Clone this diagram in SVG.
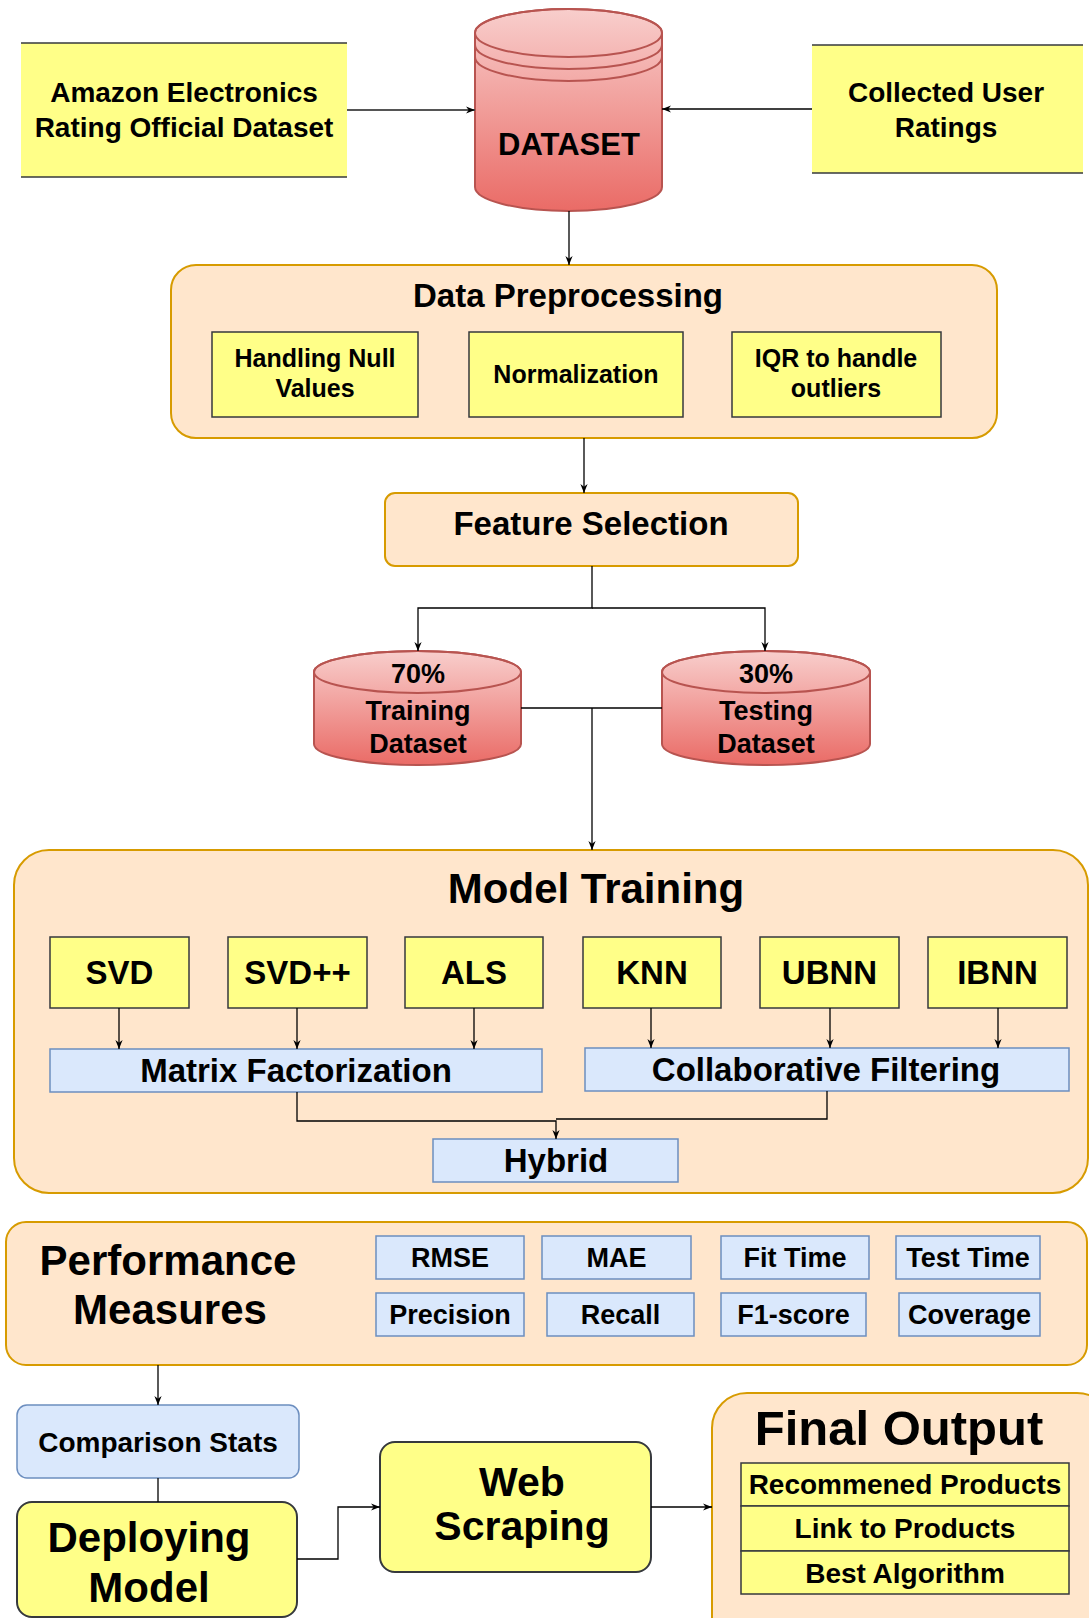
<svg xmlns="http://www.w3.org/2000/svg" width="1089" height="1618" viewBox="0 0 1089 1618">
<defs>
<linearGradient id="red" x1="0" y1="0" x2="0" y2="1">
<stop offset="0" stop-color="#f8cecc"/>
<stop offset="1" stop-color="#ea6b66"/>
</linearGradient>
<marker id="arr" viewBox="0 0 10 10" refX="10" refY="5" markerWidth="9" markerHeight="9" markerUnits="userSpaceOnUse" orient="auto">
<path d="M0,1 L10,5 L0,9 L3,5 Z" fill="#000"/>
</marker>
<style>
text{font-family:"Liberation Sans",Arial,sans-serif;font-weight:bold;fill:#000;text-anchor:middle}
.org{fill:#ffe6cc;stroke:#d79b00;stroke-width:2}
.yel{fill:#ffff88;stroke:#36393d;stroke-width:1.5}
.blu{fill:#dae8fc;stroke:#6c8ebf;stroke-width:1.5}
.cyl{fill:url(#red);stroke:#b85450;stroke-width:2}
.cyln{fill:none;stroke:#b85450;stroke-width:2}
.edge{fill:none;stroke:#000;stroke-width:1.3}
.t25{font-size:25px}.t27{font-size:27px}.t28{font-size:28px}.t33{font-size:33px}.t42{font-size:42px}
</style>
</defs>
<rect width="1089" height="1618" fill="#fff"/>

<g id="amazon">
<rect x="21" y="43" width="326" height="134" fill="#ffff88"/>
<line x1="21" y1="43" x2="347" y2="43" stroke="#36393d" stroke-width="1.5"/>
<line x1="21" y1="177" x2="347" y2="177" stroke="#36393d" stroke-width="1.5"/>
<text class="t28" x="184" y="102">Amazon Electronics</text>
<text class="t28" x="184" y="137">Rating Official Dataset</text>
</g>

<g id="collected">
<rect x="812" y="45" width="271" height="128" fill="#ffff88"/>
<line x1="812" y1="45" x2="1083" y2="45" stroke="#36393d" stroke-width="1.5"/>
<line x1="812" y1="173" x2="1083" y2="173" stroke="#36393d" stroke-width="1.5"/>
<text class="t28" x="946" y="102">Collected User</text>
<text class="t28" x="946" y="137">Ratings</text>
</g>

<g id="dataset">
<path class="cyl" d="M475,33 A93.5,24 0 0 1 662,33 V187 A93.5,24 0 0 1 475,187 Z"/>
<ellipse class="cyln" cx="568.5" cy="33" rx="93.5" ry="24"/>
<path class="cyln" d="M475,45 A93.5,24 0 0 0 662,45"/>
<path class="cyln" d="M475,57 A93.5,24 0 0 0 662,57"/>
<text x="569" y="155" style="font-size:31px">DATASET</text>
</g>

<g id="preprocessing">
<rect class="org" x="171" y="265" width="826" height="173" rx="25"/>
<text class="t33" x="568" y="307">Data Preprocessing</text>
<rect class="yel" x="212" y="332" width="206" height="85"/>
<text class="t25" x="315" y="367">Handling Null</text>
<text class="t25" x="315" y="397">Values</text>
<rect class="yel" x="469" y="332" width="214" height="85"/>
<text class="t25" x="576" y="383">Normalization</text>
<rect class="yel" x="732" y="332" width="209" height="85"/>
<text class="t25" x="836" y="367">IQR to handle</text>
<text class="t25" x="836" y="397">outliers</text>
</g>

<g id="feature">
<rect class="org" x="385" y="493" width="413" height="73" rx="10"/>
<text class="t33" x="591" y="535">Feature Selection</text>
</g>

<g id="training">
<path class="cyl" d="M314,672 A103.5,21 0 0 1 521,672 V744 A103.5,21 0 0 1 314,744 Z"/>
<ellipse class="cyln" cx="417.5" cy="672" rx="103.5" ry="21"/>
<text class="t27" x="418" y="683">70%</text>
<text class="t27" x="418" y="720">Training</text>
<text class="t27" x="418" y="753">Dataset</text>
</g>

<g id="testing">
<path class="cyl" d="M662,672 A104,21 0 0 1 870,672 V744 A104,21 0 0 1 662,744 Z"/>
<ellipse class="cyln" cx="766" cy="672" rx="104" ry="21"/>
<text class="t27" x="766" y="683">30%</text>
<text class="t27" x="766" y="720">Testing</text>
<text class="t27" x="766" y="753">Dataset</text>
</g>

<g id="model-training">
<rect class="org" x="14" y="850" width="1074" height="343" rx="35"/>
<text x="596" y="903" style="font-size:42px">Model Training</text>
</g>
<g id="svd"><rect class="yel" x="50" y="937" width="139" height="71"/><text class="t33" x="119.5" y="984">SVD</text></g>
<g id="svdpp"><rect class="yel" x="228" y="937" width="139" height="71"/><text class="t33" x="297.5" y="984">SVD++</text></g>
<g id="als"><rect class="yel" x="405" y="937" width="138" height="71"/><text class="t33" x="474" y="984">ALS</text></g>
<g id="knn"><rect class="yel" x="583" y="937" width="138" height="71"/><text class="t33" x="652" y="984">KNN</text></g>
<g id="ubnn"><rect class="yel" x="760" y="937" width="139" height="71"/><text class="t33" x="829.5" y="984">UBNN</text></g>
<g id="ibnn"><rect class="yel" x="928" y="937" width="139" height="71"/><text class="t33" x="997.5" y="984">IBNN</text></g>
<g id="mf"><rect class="blu" x="50" y="1049" width="492" height="43"/><text class="t33" x="296" y="1082">Matrix Factorization</text></g>
<g id="cf"><rect class="blu" x="585" y="1048" width="484" height="43"/><text class="t33" x="826" y="1081">Collaborative Filtering</text></g>
<g id="hybrid"><rect class="blu" x="433" y="1139" width="245" height="43"/><text class="t33" x="556" y="1172">Hybrid</text></g>

<g id="performance">
<rect class="org" x="6" y="1222" width="1081" height="143" rx="20"/>
<text x="168" y="1275" style="font-size:42px">Performance</text>
<text x="170" y="1324" style="font-size:42px">Measures</text>
<rect class="blu" x="376" y="1236" width="148" height="43"/><text class="t27" x="450" y="1267">RMSE</text>
<rect class="blu" x="542" y="1236" width="149" height="43"/><text class="t27" x="616.5" y="1267">MAE</text>
<rect class="blu" x="721" y="1236" width="148" height="43"/><text class="t27" x="795" y="1267">Fit Time</text>
<rect class="blu" x="896" y="1236" width="144" height="43"/><text class="t27" x="968" y="1267">Test Time</text>
<rect class="blu" x="376" y="1293" width="148" height="43"/><text class="t27" x="450" y="1324">Precision</text>
<rect class="blu" x="547" y="1293" width="147" height="43"/><text class="t27" x="620.5" y="1324">Recall</text>
<rect class="blu" x="721" y="1293" width="145" height="43"/><text class="t27" x="793.5" y="1324">F1-score</text>
<rect class="blu" x="899" y="1293" width="141" height="43"/><text class="t27" x="969.5" y="1324">Coverage</text>
</g>

<g id="comparison">
<rect class="blu" x="17" y="1405" width="282" height="73" rx="10"/>
<text class="t28" x="158" y="1452">Comparison Stats</text>
</g>

<g id="deploying">
<rect x="17" y="1502" width="280" height="115" rx="15" fill="#ffff88" stroke="#36393d" stroke-width="2"/>
<text class="t42" x="149" y="1552">Deploying</text>
<text class="t42" x="149" y="1602">Model</text>
</g>

<g id="webscraping">
<rect x="380" y="1442" width="271" height="130" rx="15" fill="#ffff88" stroke="#36393d" stroke-width="2"/>
<text x="522" y="1496" style="font-size:41px">Web</text>
<text x="522" y="1540" style="font-size:41px">Scraping</text>
</g>

<g id="final-output">
<rect class="org" x="712" y="1393" width="400" height="260" rx="35"/>
<text x="899" y="1445" style="font-size:49px">Final Output</text>
<rect class="yel" x="741" y="1463" width="328" height="43"/><text class="t28" x="905" y="1494">Recommened Products</text>
<rect class="yel" x="741" y="1506" width="328" height="45"/><text class="t28" x="905" y="1538">Link to Products</text>
<rect class="yel" x="741" y="1551" width="328" height="43"/><text class="t28" x="905" y="1583">Best Algorithm</text>
</g>

<g id="connectors">
<path class="edge" d="M347,110 H475" marker-end="url(#arr)" style="stroke:#555;stroke-width:1.8"/>
<path class="edge" d="M812,109 H662" marker-end="url(#arr)"/>
<path class="edge" d="M569,211 V265" marker-end="url(#arr)"/>
<path class="edge" d="M584,438 V493" marker-end="url(#arr)"/>
<path class="edge" d="M592,566 V608 H418 V651" marker-end="url(#arr)"/>
<path class="edge" d="M592,608 H765 V651" marker-end="url(#arr)"/>
<path class="edge" d="M521,708 H662"/>
<path class="edge" d="M592,708 V850" marker-end="url(#arr)"/>
<path class="edge" d="M119,1008 V1049" marker-end="url(#arr)"/>
<path class="edge" d="M297,1008 V1049" marker-end="url(#arr)"/>
<path class="edge" d="M474,1008 V1049" marker-end="url(#arr)"/>
<path class="edge" d="M651,1008 V1048" marker-end="url(#arr)"/>
<path class="edge" d="M830,1008 V1048" marker-end="url(#arr)"/>
<path class="edge" d="M998,1008 V1048" marker-end="url(#arr)"/>
<path class="edge" d="M297,1092 V1121 H556 V1139" marker-end="url(#arr)"/>
<path class="edge" d="M827,1091 V1119 H556"/>
<path class="edge" d="M158,1365 V1405" marker-end="url(#arr)"/>
<path class="edge" d="M158,1478 V1502"/>
<path class="edge" d="M297,1559 H338 V1507 H380" marker-end="url(#arr)"/>
<path class="edge" d="M651,1507 H712" marker-end="url(#arr)"/>
</g>
</svg>
